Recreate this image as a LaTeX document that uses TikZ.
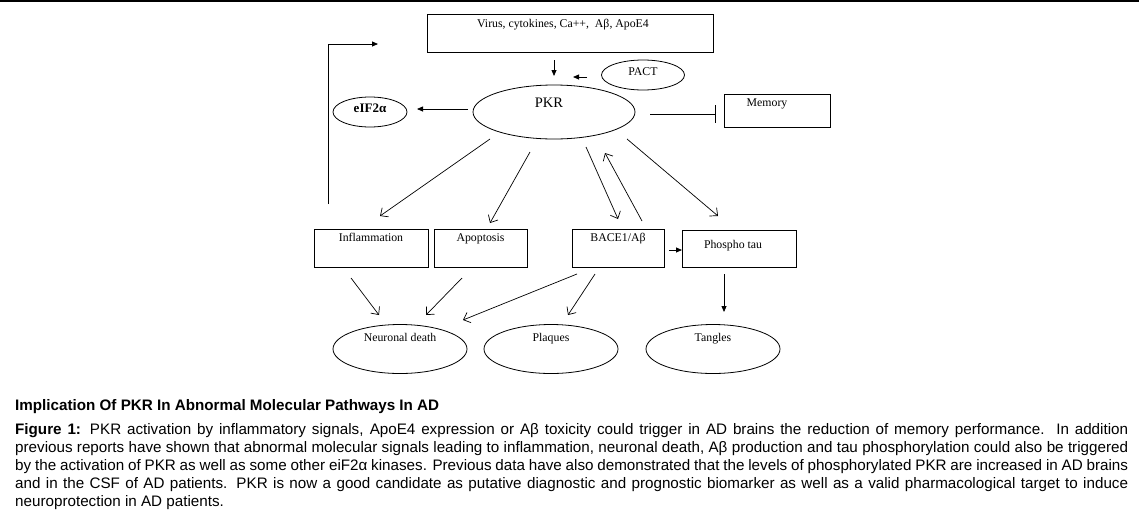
\documentclass[tikz,border=0pt]{standalone}
\usepackage{fontspec}
\setmainfont{Liberation Serif}
\newfontfamily\capfont{Liberation Sans}
\usetikzlibrary{arrows.meta,shapes.geometric}
\begin{document}
\begin{tikzpicture}[x=1pt,y=-1pt,
  box/.style={draw, line width=0.8pt, inner sep=0pt},
  oval/.style={draw, ellipse, line width=0.8pt, inner sep=0pt},
  lbl/.style={font=\fontsize{11.8}{13}\selectfont, inner sep=0pt, text height=8pt, text depth=2.5pt},
  diag/.style={line width=0.7pt, -{Straight Barb[length=6pt,width=11pt]}},
  sarr/.style={line width=0.8pt, -{Triangle[length=6pt,width=5pt]}},
  inh/.style={line width=0.8pt, -{Bar[width=18pt,line width=0.8pt]}},
  capline/.style={anchor=base west, inner sep=0pt, font=\capfont\fontsize{15.2}{18}\selectfont}
]
\useasboundingbox (0,0) rectangle (1139,512);
\draw[line width=1.5pt] (0,1) -- (1139,1);

% nodes
\node[box, minimum width=286pt, minimum height=38pt,
  label={[lbl, xshift=-7pt, yshift=8pt]center:Virus, cytokines, Ca++,~ Aβ, ApoE4}] (virus) at (570,33) {};
\node[oval, minimum width=83pt, minimum height=30pt,
  label={[lbl, yshift=2pt]center:PACT}] (pact) at (643,75) {};
\node[oval, minimum width=162pt, minimum height=54pt,
  label={[lbl, font=\fontsize{14.5}{16}\selectfont, text height=10pt, xshift=-5pt, yshift=8pt]center:PKR}] (pkr) at (554,112) {};
\node[oval, minimum width=74pt, minimum height=30pt,
  label={[lbl, font=\bfseries\fontsize{13}{14}\selectfont, yshift=2pt]center:eIF2α}] (eif) at (370,112) {};
\node[box, minimum width=106pt, minimum height=33pt,
  label={[lbl, xshift=-10pt, yshift=6.5pt]center:Memory}] (memory) at (777,110.5) {};

\node[box, minimum width=114pt, minimum height=38pt,
  label={[lbl, yshift=9pt]center:Inflammation}] (inflam) at (371,248) {};
\node[box, minimum width=93pt, minimum height=38pt,
  label={[lbl, yshift=9pt]center:Apoptosis}] (apop) at (480.5,248) {};
\node[box, minimum width=92pt, minimum height=38pt,
  label={[lbl, yshift=9pt]center:BACE1/Aβ}] (bace) at (618,248) {};
\node[box, minimum width=114pt, minimum height=37pt,
  label={[lbl, xshift=-6pt, yshift=2.5pt]center:Phospho tau}] (ptau) at (739,248.5) {};

\node[oval, minimum width=134pt, minimum height=49pt,
  label={[lbl, yshift=10pt]center:Neuronal death}] (neur) at (400,349) {};
\node[oval, minimum width=134pt, minimum height=49pt,
  label={[lbl, yshift=10pt]center:Plaques}] (plaq) at (551,349) {};
\node[oval, minimum width=134pt, minimum height=49pt,
  label={[lbl, yshift=10pt]center:Tangles}] (tang) at (713,349) {};

% connectors
\draw[sarr] ([shift={(-16,27)}]virus.center) -- ([shift={(0,-36)}]pkr.center);
\draw[sarr] ([shift={(-56,2)}]pact.center) -- ([shift={(19,-35)}]pkr.center);
\draw[sarr] ([shift={(-86,-3)}]pkr.center) -- ([shift={(47,-3)}]eif.center);
\draw[inh] ([shift={(96,2)}]pkr.center) -- ([shift={(-61,3.5)}]memory.center);
\draw[sarr] ([shift={(-43,-44)}]inflam.center) |- ([shift={(-192,11)}]virus.center);

\draw[diag] ([shift={(-64,27)}]pkr.center) -- ([shift={(9,-32)}]inflam.center);
\draw[diag] ([shift={(-24,40)}]pkr.center) -- ([shift={(9.5,-25)}]apop.center);
\draw[diag] ([shift={(32,35)}]pkr.center) -- ([shift={(0,-29)}]bace.center);
\draw[diag] ([shift={(24,-27)}]bace.center) -- ([shift={(51,41)}]pkr.center);
\draw[diag] ([shift={(73,27)}]pkr.center) -- ([shift={(-21,-32.5)}]ptau.center);
\draw[sarr] ([shift={(51,2)}]bace.center) -- ([shift={(-57,1.5)}]ptau.center);

\draw[diag] ([shift={(-20,30)}]inflam.center) -- ([shift={(-21,-34)}]neur.center);
\draw[diag] ([shift={(-18.5,30)}]apop.center) -- ([shift={(26,-34)}]neur.center);
\draw[diag] ([shift={(-41,26)}]bace.center) -- ([shift={(63,-29)}]neur.center);
\draw[diag] ([shift={(-23,26)}]bace.center) -- ([shift={(17,-34)}]plaq.center);
\draw[sarr] ([shift={(-15,25.5)}]ptau.center) -- ([shift={(11,-37)}]tang.center);

% caption
\node[capline] (head) at (15,410) {\bfseries Implication Of PKR In Abnormal Molecular Pathways In AD};
\node[capline] (cap1) at (15,434) {\makebox[1113pt][s]{\textbf{Figure 1:} PKR activation by inflammatory signals, ApoE4 expression or Aβ toxicity could trigger in AD brains the reduction of memory performance.\ \ In addition}};
\node[capline] (cap2) at (15,452) {\makebox[1113pt][s]{previous reports have shown that abnormal molecular signals leading to inflammation, neuronal death, Aβ production and tau phosphorylation could also be triggered}};
\node[capline] (cap3) at (15,470) {\makebox[1113pt][s]{by the activation of PKR as well as some other eiF2α kinases. Previous data have also demonstrated that the levels of phosphorylated PKR are increased in AD brains}};
\node[capline] (cap4) at (15,488) {\makebox[1113pt][s]{and in the CSF of AD patients. PKR is now a good candidate as putative diagnostic and prognostic biomarker as well as a valid pharmacological target to induce}};
\node[capline] (cap5) at (15,506) {neuroprotection in AD patients.};
\end{tikzpicture}
\end{document}
